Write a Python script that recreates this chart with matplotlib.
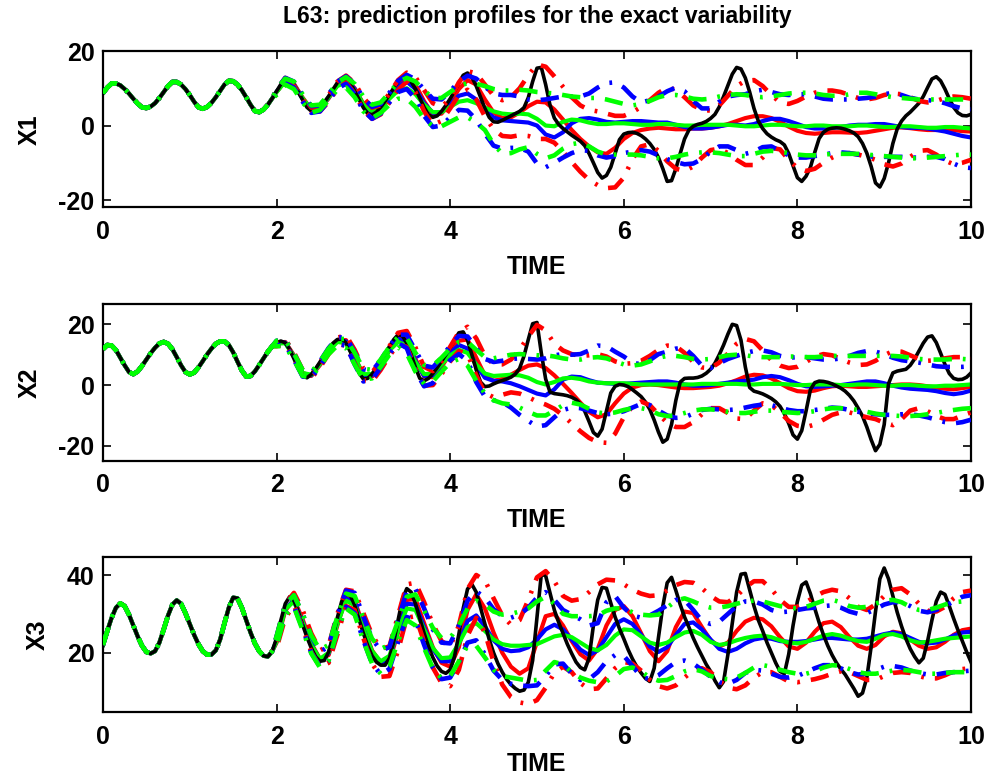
import numpy as np
import matplotlib
matplotlib.use("Agg")
import matplotlib.pyplot as plt

plt.rcParams["font.family"] = ["Liberation Sans", "DejaVu Sans"]
plt.rcParams["font.weight"] = "bold"
plt.rcParams["axes.labelweight"] = "bold"
plt.rcParams["axes.titleweight"] = "bold"
plt.rcParams["axes.unicode_minus"] = False

TITLE = "L63: prediction profiles for the exact variability"

# truth trajectory, sampled every 0.05 time unit from 0 to 10
t_truth = np.round(np.arange(201) * 0.05, 2)
x1_truth = [
    8.7, 10.2, 11.3, 11.3, 10.8, 9.8, 8.6, 7.2, 5.9, 4.9,
    4.7, 5.1, 6.0, 7.4, 9.0, 10.6, 11.7, 11.7, 11.0, 9.8,
    8.2, 6.4, 4.9, 4.5, 5.0, 6.1, 7.6, 9.3, 11.0, 12.0,
    11.9, 11.0, 9.5, 7.6, 5.6, 3.9, 3.6, 4.3, 5.6, 7.3,
    9.2, 11.1, 12.3, 12.0, 10.8, 9.0, 6.9, 4.9, 3.9, 3.9,
    4.8, 6.2, 7.9, 9.7, 11.5, 12.6, 12.5, 11.2, 9.3, 7.0,
    4.8, 3.2, 2.9, 3.6, 4.9, 6.5, 8.3, 10.1, 11.8, 12.9,
    12.9, 11.8, 9.8, 7.4, 4.9, 2.9, 2.2, 2.6, 3.8, 5.4,
    7.2, 9.2, 11.4, 13.5, 14.1, 13.0, 10.6, 7.6, 4.6, 2.2,
    1.0, 0.9, 1.4, 2.0, 2.6, 3.2, 3.8, 4.8, 7.5, 11.8,
    15.4, 15.6, 11.0, 5.5, 2.0, 0.3, -0.8, -1.7, -2.6, -3.4,
    -4.2, -5.4, -7.5, -10.0, -12.6, -14.1, -13.4, -11.2, -7.5, -3.8,
    -2.3, -1.9, -1.8, -2.1, -2.7, -3.6, -4.8, -6.4, -8.6, -11.6,
    -15.0, -14.8, -11.6, -7.5, -3.6, -1.2, -0.2, 0.3, 0.6, 1.1,
    1.9, 3.0, 5.0, 7.8, 10.8, 13.8, 15.6, 15.2, 12.8, 9.0,
    4.6, 1.2, -0.8, -2.2, -3.1, -3.8, -4.3, -5.2, -7.5, -10.8,
    -14.0, -15.0, -13.6, -11.2, -7.2, -3.5, -1.8, -1.0, -0.7, -0.6,
    -0.7, -1.0, -1.4, -2.0, -3.0, -4.8, -7.4, -11.0, -15.4, -16.5,
    -14.2, -10.0, -4.8, -0.9, 1.2, 2.6, 3.6, 4.8, 6.0, 7.8,
    10.2, 12.5, 13.1, 12.0, 9.8, 7.2, 4.9, 3.4, 2.7, 2.6,
    3.0,
]
x2_truth = [
    11.8, 13.2, 13.0, 11.5, 9.0, 6.5, 4.3, 3.6, 4.5, 6.3,
    8.4, 10.5, 12.3, 13.7, 14.2, 13.6, 11.8, 9.2, 6.5, 4.3,
    3.5, 4.1, 5.8, 7.9, 10.1, 12.0, 13.6, 14.4, 14.4, 13.2,
    10.8, 7.7, 4.8, 2.8, 3.0, 4.5, 6.6, 8.8, 11.0, 12.8,
    14.0, 14.5, 13.9, 11.8, 8.7, 5.5, 3.0, 2.4, 3.5, 5.4,
    7.6, 9.9, 12.0, 13.8, 15.0, 15.2, 13.9, 11.0, 7.4, 4.0,
    2.0, 2.2, 3.6, 5.6, 7.9, 10.3, 12.7, 15.0, 16.6, 16.2,
    13.8, 10.0, 5.8, 2.2, 1.4, 2.2, 3.8, 5.7, 7.8, 10.0,
    12.3, 14.8, 17.2, 17.5, 14.8, 10.0, 5.0, 1.0, -0.5, -0.3,
    0.4, 1.0, 1.5, 2.0, 2.6, 3.6, 5.5, 9.5, 15.0, 20.2,
    20.6, 10.5, 2.0, -2.3, -2.8, -3.0, -3.2, -3.5, -4.0, -4.8,
    -6.2, -8.6, -12.0, -15.6, -16.8, -14.5, -8.5, -2.6, -0.4, 0.2,
    0.0, -0.5, -1.5, -2.6, -3.8, -5.6, -8.0, -11.5, -15.5, -18.8,
    -17.8, -13.0, -5.0, 1.0, 2.2, 2.3, 2.3, 2.5, 3.0, 3.9,
    5.2, 7.2, 10.0, 13.2, 16.8, 20.0, 19.6, 14.8, 6.0, -0.8,
    -2.0, -2.4, -2.9, -3.6, -4.4, -5.5, -7.0, -9.4, -12.6, -16.4,
    -17.8, -15.0, -8.5, -1.5, 0.8, 1.3, 1.2, 0.9, 0.4, -0.3,
    -1.0, -2.0, -3.4, -5.2, -7.6, -10.2, -13.8, -18.0, -21.6, -19.5,
    -13.0, 0.5, 4.0, 4.6, 4.9, 5.2, 6.5, 8.6, 11.2, 13.8,
    15.8, 16.2, 14.0, 10.5, 6.8, 3.8, 2.2, 1.8, 1.9, 2.6,
    4.0,
]
x3_truth = [
    22.0, 25.6, 29.0, 31.6, 32.7, 32.0, 29.8, 27.0, 24.2, 21.8,
    20.2, 19.8, 20.4, 22.6, 26.0, 29.6, 32.4, 33.5, 32.6, 30.2,
    27.4, 24.6, 22.2, 20.4, 19.5, 19.5, 20.6, 23.4, 27.6, 31.6,
    34.2, 34.0, 31.6, 28.4, 25.2, 22.4, 20.4, 19.2, 19.0, 20.4,
    23.8, 28.4, 32.6, 34.4, 33.4, 30.6, 27.2, 24.0, 21.2, 19.0,
    17.8, 18.0, 20.2, 24.2, 29.0, 33.2, 35.2, 34.8, 32.2, 28.6,
    25.0, 21.8, 19.2, 17.6, 16.8, 16.8, 18.6, 22.8, 28.4, 33.8,
    36.5, 35.6, 32.6, 28.8, 25.0, 21.6, 18.8, 16.6, 15.2, 14.7,
    15.6, 19.0, 24.8, 31.4, 36.4, 37.6, 35.6, 31.6, 27.4, 23.4,
    20.0, 17.2, 15.0, 13.2, 11.8, 10.8, 10.1, 10.4, 12.4, 18.0,
    29.0, 40.2, 39.8, 35.4, 31.0, 27.8, 25.0, 22.2, 19.8, 17.6,
    16.2, 15.6, 18.6, 27.0, 33.6, 36.8, 36.6, 32.8, 29.2, 26.2,
    23.6, 20.8, 18.4, 16.4, 14.8, 13.4, 12.6, 16.0, 24.0, 32.0,
    38.0, 39.4, 36.0, 32.4, 29.2, 26.6, 23.8, 21.4, 19.2, 17.0,
    15.2, 12.8, 11.0, 12.6, 19.6, 27.6, 35.6, 40.2, 40.4, 36.2,
    32.0, 28.4, 25.6, 22.6, 20.0, 17.4, 15.2, 14.6, 19.6, 27.0,
    33.2, 37.4, 38.2, 35.2, 31.4, 27.8, 24.6, 21.8, 19.4, 17.4,
    15.8, 14.4, 12.6, 10.8, 8.8, 9.6, 13.6, 21.6, 30.6, 39.0,
    41.8, 39.0, 34.6, 30.4, 26.8, 23.6, 21.0, 19.0, 17.4, 18.6,
    23.0, 28.4, 33.2, 35.6, 35.0, 32.0, 28.8, 25.8, 23.0, 20.2,
    17.6,
]

# prediction profiles (mean, lower, upper), every 0.1 from t=2 to 10;
# before t=2 all profiles sit on the truth
t_ens = np.round(2.0 + np.arange(81) * 0.1, 2)

x1_red_mean = [
    9.0, 12.0, 11.2, 7.5, 4.3, 4.5, 7.3, 10.9, 12.6, 10.0,
    5.8, 3.3, 4.2, 7.4, 11.0, 13.2, 11.0, 6.5, 3.0, 3.2,
    6.0, 9.8, 12.2, 11.0, 7.0, 3.5, 2.0, 2.2, 3.5, 5.2,
    6.4, 6.2, 4.3, 1.6, -1.2, -3.6, -5.6, -7.2, -7.6, -6.0,
    -3.6, -2.0, -1.2, -0.8, -0.6, -0.8, -1.0, -1.0, -0.8, -0.8,
    -0.6, -0.2, 0.4, 1.2, 2.0, 2.5, 2.5, 2.0, 1.0, -0.3,
    -1.4, -2.0, -2.2, -2.0, -1.8, -1.8, -1.9, -2.0, -1.8, -1.4,
    -1.0, -0.6, -0.5, -0.7, -1.0, -1.2, -1.2, -1.0, -1.2, -1.5,
    -1.6,
]
x1_red_hi = [
    9.6, 12.8, 11.6, 8.0, 4.8, 5.2, 8.2, 11.8, 13.4, 11.4,
    7.5, 4.8, 5.4, 8.6, 12.2, 14.2, 13.0, 9.5, 6.0, 5.0,
    7.2, 11.6, 14.6, 14.0, 11.0, 8.0, 6.8, 7.6, 10.0, 13.5,
    16.4, 15.8, 13.2, 10.4, 7.6, 5.4, 4.2, 3.8, 3.2, 2.6,
    2.6, 3.6, 5.0, 6.8, 8.8, 10.2, 9.6, 7.6, 5.4, 4.2,
    4.0, 5.4, 8.0, 10.6, 12.0, 12.2, 10.6, 8.2, 6.2, 5.8,
    6.6, 7.8, 8.8, 9.4, 9.4, 9.0, 8.2, 7.4, 7.0, 7.4,
    8.2, 8.6, 8.4, 7.6, 6.6, 6.2, 6.6, 7.4, 7.8, 7.6,
    7.2,
]
x1_red_lo = [
    8.4, 11.4, 10.6, 7.0, 3.8, 3.8, 6.4, 9.8, 11.6, 8.6,
    4.2, 1.8, 3.0, 6.2, 9.6, 11.8, 9.0, 3.8, 0.2, 1.2,
    4.6, 8.2, 9.6, 7.0, 2.4, -1.0, -2.8, -3.0, -2.6, -2.8,
    -3.6, -3.6, -4.6, -7.0, -9.8, -12.4, -14.6, -16.0, -16.8, -16.6,
    -14.0, -9.0, -5.6, -5.0, -6.8, -9.6, -11.6, -12.2, -11.0, -8.6,
    -6.6, -6.2, -7.4, -9.2, -10.6, -10.6, -8.6, -6.0, -6.4, -9.2,
    -11.4, -12.2, -11.6, -10.0, -8.6, -7.6, -7.4, -7.8, -8.4, -9.2,
    -10.4, -11.0, -10.2, -8.4, -6.8, -6.6, -7.8, -9.4, -10.4, -10.0,
    -9.2,
]
x1_blue_mean = [
    9.1, 12.1, 11.0, 7.2, 4.2, 4.6, 7.5, 11.0, 12.3, 9.8,
    5.6, 3.4, 4.6, 7.6, 10.6, 11.8, 9.8, 6.0, 3.4, 3.6,
    5.8, 8.0, 8.6, 7.0, 4.2, 2.2, 1.4, 1.2, 1.0, 0.8,
    0.0, -2.4, -3.2, -1.8, 0.6, 1.8, 2.0, 1.6, 1.0, 0.8,
    1.0, 1.2, 1.2, 1.0, 0.8, 0.8, 0.2, -0.4, -0.8, -0.8,
    -0.6, -0.2, 0.2, 0.2, 0.0, 0.4, 1.2, 1.8, 1.8, 1.2,
    0.4, -0.4, -0.8, -0.8, -0.6, -0.4, 0.0, 0.2, 0.2, 0.4,
    0.4, 0.0, -0.4, -0.6, -0.6, -0.8, -1.2, -1.6, -2.2, -2.8,
    -3.2,
]
x1_blue_hi = [
    9.7, 12.8, 11.8, 8.2, 5.2, 5.4, 8.4, 11.8, 13.2, 11.2,
    7.4, 5.0, 5.8, 8.8, 12.0, 13.6, 12.4, 9.6, 7.2, 7.0,
    9.2, 11.8, 13.4, 12.6, 10.4, 8.6, 8.2, 8.2, 7.8, 7.0,
    6.8, 7.0, 7.4, 7.8, 7.8, 7.8, 8.6, 10.2, 11.4, 11.6,
    10.2, 7.8, 6.2, 6.8, 7.8, 9.2, 10.2, 9.2, 6.6, 4.6,
    4.6, 6.4, 7.8, 8.2, 8.4, 9.2, 9.6, 9.0, 8.4, 8.2,
    8.4, 8.4, 7.8, 7.2, 7.0, 7.0, 7.0, 7.2, 7.4, 7.8,
    8.4, 8.8, 8.2, 7.4, 7.0, 6.8, 6.6, 6.0, 5.2, 4.6,
    4.4,
]
x1_blue_lo = [
    8.5, 11.4, 10.2, 6.4, 3.4, 3.8, 6.6, 10.0, 11.2, 8.4,
    4.0, 1.8, 3.2, 6.2, 9.0, 9.8, 7.2, 2.6, -0.4, 0.0,
    2.2, 4.2, 4.0, 1.6, -2.2, -5.4, -6.2, -6.0, -6.0, -7.0,
    -10.2, -11.2, -10.0, -8.6, -7.4, -6.6, -6.8, -8.0, -8.6, -8.2,
    -7.4, -7.0, -6.6, -7.0, -8.0, -9.0, -9.8, -10.4, -10.2, -9.0,
    -7.0, -5.6, -5.6, -6.6, -7.6, -7.0, -5.8, -5.6, -6.8, -8.0,
    -8.6, -8.6, -8.2, -7.8, -7.4, -7.2, -7.4, -7.8, -8.2, -8.4,
    -8.4, -8.4, -8.4, -8.6, -8.6, -8.4, -8.4, -9.0, -10.2, -11.2,
    -11.4,
]
x1_green_mean = [
    9.0, 11.8, 10.8, 7.3, 4.4, 4.9, 7.6, 10.6, 11.6, 9.4,
    5.8, 3.8, 4.8, 7.2, 9.4, 10.0, 8.4, 5.6, 3.6, 3.6,
    5.0, 6.4, 6.8, 6.0, 4.8, 3.8, 3.2, 3.0, 3.2, 3.0,
    1.8, 0.0, -0.2, 1.0, 1.6, 1.4, 0.8, 0.4, 0.4, 0.6,
    0.6, 0.4, 0.2, 0.2, 0.4, 0.4, 0.2, 0.0, 0.0, 0.2,
    0.2, 0.2, 0.2, 0.0, -0.2, -0.2, 0.0, 0.2, 0.2, 0.0,
    -0.2, -0.2, 0.0, 0.0, -0.2, -0.2, -0.2, 0.0, 0.0, -0.2,
    -0.4, -0.4, -0.2, -0.2, -0.4, -0.6, -0.6, -0.4, -0.4, -0.6,
    -0.8,
]
x1_green_hi = [
    9.8, 12.6, 11.8, 8.4, 5.4, 5.6, 8.4, 11.6, 13.0, 11.2,
    7.8, 5.6, 6.2, 8.8, 11.6, 12.8, 11.8, 9.4, 7.4, 7.4,
    9.0, 10.6, 11.4, 11.2, 10.6, 9.8, 9.4, 9.4, 9.6, 9.4,
    9.0, 8.8, 8.6, 8.2, 7.8, 7.6, 7.4, 7.4, 7.0, 6.4,
    5.8, 5.4, 5.8, 6.6, 7.6, 8.2, 8.2, 7.8, 7.2, 7.0,
    7.2, 7.8, 8.2, 8.4, 8.2, 7.8, 7.6, 7.8, 8.2, 8.6,
    8.8, 8.8, 8.6, 8.2, 8.0, 8.0, 8.4, 8.8, 8.8, 8.4,
    8.0, 7.6, 7.4, 7.2, 7.0, 7.0, 7.0, 7.0, 7.0, 7.0,
    7.0,
]
x1_green_lo = [
    8.2, 11.0, 9.8, 6.2, 3.4, 4.2, 6.8, 9.6, 10.2, 7.6,
    3.8, 2.0, 3.4, 5.6, 7.2, 7.2, 5.0, 1.8, -0.2, -0.2,
    1.0, 2.2, 2.2, 0.8, -1.2, -5.0, -7.6, -7.4, -6.4, -5.8,
    -7.6, -8.8, -8.0, -6.2, -5.0, -4.6, -5.6, -7.0, -7.8, -7.8,
    -7.8, -7.8, -8.0, -8.4, -8.8, -8.8, -8.4, -7.8, -7.4, -7.2,
    -7.2, -7.4, -7.8, -8.2, -8.2, -7.6, -7.0, -6.8, -7.0, -7.4,
    -7.8, -8.0, -8.0, -7.8, -7.6, -7.6, -7.6, -7.6, -7.8, -8.0,
    -8.2, -8.4, -8.6, -8.8, -8.8, -8.6, -8.4, -8.2, -8.0, -7.8,
    -7.8,
]

x2_red_mean = [
    13.6, 14.2, 9.8, 4.0, 3.0, 6.6, 11.2, 14.6, 14.8, 9.2,
    3.4, 2.8, 6.6, 11.4, 15.6, 15.4, 8.6, 2.8, 2.6, 6.0,
    10.4, 14.6, 15.0, 9.0, 3.2, 1.4, 2.0, 3.4, 5.0, 6.4,
    6.8, 5.6, 3.2, 0.4, -2.6, -5.8, -8.8, -10.6, -9.6, -6.0,
    -2.8, -0.8, 0.0, 0.2, 0.0, -0.4, -0.8, -1.0, -1.0, -0.8,
    -0.6, -0.2, 0.6, 1.6, 2.8, 3.4, 3.2, 2.2, 0.6, -1.0,
    -2.0, -2.2, -1.8, -1.0, -0.4, -0.2, -0.4, -0.6, -0.6, -0.4,
    -0.2, 0.0, 0.2, 0.2, 0.0, -0.4, -0.8, -1.2, -1.4, -1.0,
    -0.6,
]
x2_red_hi = [
    14.4, 15.0, 10.8, 5.0, 3.8, 7.4, 12.0, 15.6, 16.4, 11.6,
    5.4, 4.2, 7.8, 12.8, 17.2, 17.8, 12.4, 6.0, 4.6, 7.8,
    12.6, 17.4, 19.2, 15.4, 9.6, 6.8, 6.8, 8.4, 11.6, 16.0,
    19.8, 18.0, 13.6, 11.4, 10.2, 9.6, 9.8, 10.2, 9.4, 7.8,
    7.0, 7.2, 8.0, 9.6, 11.6, 13.0, 12.8, 10.6, 7.6, 5.8,
    5.6, 7.4, 10.4, 13.6, 15.2, 14.4, 11.4, 8.2, 6.4, 5.6,
    6.0, 7.6, 9.4, 10.2, 9.8, 8.6, 7.4, 6.6, 6.8, 8.0,
    9.8, 11.2, 11.0, 9.8, 8.6, 8.0, 8.2, 8.8, 9.2, 9.2,
    9.0,
]
x2_red_lo = [
    12.8, 13.4, 8.8, 3.0, 2.2, 5.8, 10.2, 13.4, 13.0, 7.2,
    1.6, 1.2, 5.0, 9.6, 13.4, 12.6, 5.4, -0.2, 0.0, 3.6,
    7.8, 11.2, 10.2, 3.2, -2.6, -4.0, -3.2, -2.4, -2.8, -4.0,
    -5.4, -6.4, -7.8, -10.0, -12.6, -15.2, -17.4, -18.8, -19.0, -16.0,
    -10.6, -7.0, -5.4, -6.6, -9.6, -12.4, -13.8, -13.8, -12.2, -9.6,
    -7.6, -7.6, -9.2, -11.0, -11.2, -8.4, -6.0, -6.6, -9.0, -11.8,
    -13.4, -13.8, -13.0, -11.4, -9.8, -9.0, -9.0, -9.8, -10.6, -11.2,
    -12.4, -13.2, -11.2, -8.4, -7.6, -8.6, -10.2, -11.2, -11.2, -10.0,
    -9.0,
]
x2_blue_mean = [
    13.8, 14.0, 9.4, 3.8, 3.2, 7.0, 11.4, 14.6, 14.4, 8.8,
    3.2, 3.2, 7.0, 11.6, 15.2, 14.4, 8.0, 3.0, 3.2, 6.8,
    10.6, 13.2, 12.0, 6.6, 2.4, 1.4, 1.2, 0.6, -0.4, -1.6,
    -2.8, -3.4, -1.4, 1.8, 2.8, 2.6, 1.6, 0.8, 0.6, 0.4,
    0.4, 0.6, 0.8, 1.0, 1.2, 1.2, 0.8, 0.2, -0.2, -0.2,
    0.0, 0.4, 0.8, 1.2, 1.4, 1.8, 2.6, 3.0, 2.6, 1.6,
    0.4, -0.4, -0.6, -0.4, -0.2, 0.0, 0.4, 0.8, 1.2, 1.2,
    0.6, -0.2, -0.8, -1.2, -1.4, -1.6, -2.0, -2.6, -3.0, -2.6,
    -1.8,
]
x2_blue_hi = [
    14.6, 14.8, 10.4, 4.8, 4.0, 7.8, 12.2, 15.6, 15.8, 10.8,
    5.2, 4.6, 8.2, 12.8, 16.6, 16.6, 11.4, 6.4, 5.8, 9.0,
    13.0, 16.2, 16.0, 12.2, 8.6, 7.6, 8.0, 8.6, 8.8, 8.6,
    8.4, 8.8, 9.8, 10.2, 10.0, 10.2, 11.4, 13.0, 12.8, 11.0,
    9.4, 7.4, 6.8, 8.2, 10.2, 11.0, 12.0, 12.2, 9.6, 6.4,
    5.6, 7.2, 8.6, 9.6, 10.6, 11.2, 11.4, 10.8, 9.6, 9.0,
    9.2, 9.2, 8.8, 8.4, 8.4, 8.8, 9.6, 10.6, 11.2, 11.0,
    10.2, 9.0, 8.2, 7.8, 7.4, 6.8, 6.2, 6.0, 6.0, 6.0,
    6.2,
]
x2_blue_lo = [
    13.2, 13.2, 8.4, 2.8, 2.4, 6.2, 10.6, 13.6, 13.0, 6.8,
    1.2, 1.8, 5.8, 10.4, 13.8, 12.2, 4.6, -0.4, 0.6, 4.6,
    8.2, 10.2, 8.0, 1.0, -3.8, -5.0, -5.6, -7.4, -9.8, -11.8,
    -13.6, -13.2, -10.6, -8.2, -7.4, -7.6, -8.4, -9.2, -9.6, -9.4,
    -8.6, -7.4, -6.2, -6.6, -8.4, -10.0, -10.8, -10.6, -9.4, -8.2,
    -7.8, -8.0, -8.2, -8.0, -7.4, -6.8, -6.4, -6.6, -7.4, -8.2,
    -8.6, -8.6, -8.2, -7.8, -7.4, -7.6, -8.2, -8.8, -9.2, -9.6,
    -9.8, -9.8, -9.6, -9.6, -10.0, -10.6, -11.4, -12.2, -12.6, -12.2,
    -11.4,
]
x2_green_mean = [
    13.6, 13.8, 9.4, 4.0, 3.4, 7.0, 11.2, 14.2, 13.8, 8.8,
    3.6, 3.6, 7.2, 11.4, 14.2, 13.0, 7.6, 3.6, 3.8, 6.8,
    9.8, 11.6, 10.6, 6.8, 3.8, 3.0, 3.2, 3.4, 3.2, 2.4,
    1.0, 0.2, 1.0, 2.2, 2.4, 2.0, 1.2, 0.8, 0.6, 0.6,
    0.6, 0.4, 0.2, 0.2, 0.2, 0.2, 0.2, 0.2, 0.2, 0.4,
    0.4, 0.4, 0.4, 0.4, 0.2, 0.2, 0.4, 0.4, 0.4, 0.2,
    0.0, 0.0, 0.2, 0.2, 0.2, 0.0, 0.0, 0.2, 0.2, 0.0,
    -0.2, -0.2, 0.0, 0.0, -0.2, -0.4, -0.4, -0.2, -0.2, 0.0,
    0.2,
]
x2_green_hi = [
    14.6, 14.8, 10.4, 5.0, 4.2, 7.8, 12.0, 15.2, 15.2, 10.6,
    5.4, 5.0, 8.4, 12.6, 15.8, 15.4, 10.6, 6.6, 6.4, 9.0,
    12.0, 14.2, 14.2, 11.6, 9.2, 8.8, 9.4, 10.0, 10.2, 10.0,
    9.8, 9.8, 9.4, 8.8, 8.4, 8.4, 9.0, 9.2, 8.8, 7.8,
    6.8, 6.4, 6.8, 7.8, 9.0, 9.6, 9.6, 9.2, 8.6, 8.4,
    8.6, 9.2, 9.8, 10.0, 9.8, 9.4, 9.2, 9.2, 9.2, 9.4,
    9.4, 9.2, 9.2, 9.4, 9.6, 9.6, 9.6, 9.6, 9.6, 9.6,
    9.6, 9.6, 9.4, 9.0, 8.6, 8.4, 8.4, 8.4, 8.6, 8.6,
    8.4,
]
x2_green_lo = [
    12.8, 12.8, 8.2, 3.0, 2.6, 6.2, 10.2, 13.0, 12.2, 6.8,
    1.8, 2.2, 6.0, 10.0, 12.4, 10.4, 4.4, 0.4, 1.2, 4.4,
    7.4, 8.6, 6.4, 1.4, -2.8, -5.0, -6.0, -6.4, -7.4, -8.8,
    -10.0, -10.0, -8.4, -6.6, -5.8, -6.4, -7.8, -9.0, -9.4, -9.0,
    -8.2, -7.6, -7.6, -8.2, -9.6, -10.2, -10.0, -9.2, -8.4, -8.0,
    -8.0, -8.2, -8.8, -9.2, -9.2, -8.8, -8.4, -8.4, -8.8, -9.0,
    -9.2, -9.0, -8.6, -8.0, -7.6, -7.6, -7.8, -8.2, -8.8, -9.4,
    -9.8, -10.0, -10.2, -10.2, -10.0, -9.6, -9.2, -8.6, -8.2, -7.8,
    -7.6,
]

x3_red_mean = [
    22.6, 30.8, 33.8, 28.6, 22.4, 18.4, 19.4, 27.0, 34.2, 33.4,
    26.8, 20.6, 17.4, 17.8, 25.2, 33.6, 33.8, 27.6, 21.4, 17.4,
    16.4, 21.4, 31.0, 35.0, 31.4, 25.2, 20.0, 16.4, 14.6, 16.0,
    22.8, 29.4, 30.0, 27.0, 23.0, 19.6, 18.0, 21.0, 27.0, 31.0,
    32.0, 29.4, 25.0, 20.4, 17.8, 20.4, 26.6, 30.6, 30.2, 26.6,
    23.2, 21.6, 22.6, 25.6, 28.0, 29.0, 28.6, 26.8, 24.0, 21.6,
    21.0, 22.6, 25.4, 27.6, 28.0, 26.6, 24.0, 21.8, 21.0, 22.0,
    24.2, 25.4, 25.0, 23.4, 21.8, 21.0, 21.4, 22.8, 24.6, 25.8,
    26.2,
]
x3_red_hi = [
    24.0, 32.6, 35.4, 31.0, 25.0, 20.6, 21.8, 30.0, 36.2, 35.8,
    30.2, 24.6, 21.0, 21.6, 29.6, 37.6, 38.0, 33.0, 27.4, 23.0,
    21.6, 27.0, 36.4, 40.0, 38.6, 34.0, 29.6, 27.2, 28.4, 33.6,
    39.4, 41.0, 38.4, 34.6, 33.4, 33.8, 35.6, 37.6, 38.8, 38.6,
    37.6, 36.2, 35.2, 34.6, 34.8, 36.0, 37.4, 38.2, 38.0, 36.6,
    34.6, 33.2, 33.0, 34.6, 36.8, 38.4, 38.4, 36.4, 33.6, 31.8,
    31.8, 33.0, 34.4, 35.6, 36.2, 35.8, 34.0, 31.8, 31.0, 32.4,
    34.6, 36.2, 36.6, 35.0, 32.6, 30.8, 30.6, 31.8, 34.0, 35.6,
    36.0,
]
x3_red_lo = [
    21.2, 29.0, 32.2, 26.6, 20.2, 16.4, 17.4, 24.6, 32.0, 31.0,
    23.8, 17.2, 13.8, 14.0, 20.6, 29.0, 29.4, 22.8, 16.2, 12.2,
    11.4, 15.6, 24.4, 29.0, 25.2, 17.6, 11.8, 8.6, 7.2, 6.8,
    7.8, 11.0, 14.8, 16.4, 15.0, 12.2, 10.6, 10.8, 13.4, 16.0,
    17.6, 17.2, 15.4, 13.0, 11.4, 10.8, 11.6, 13.6, 15.4, 16.0,
    15.0, 12.8, 11.0, 10.6, 11.6, 13.6, 15.0, 15.0, 13.8, 12.6,
    12.4, 12.8, 13.2, 13.8, 14.6, 15.2, 15.0, 14.0, 13.0, 13.0,
    14.0, 14.8, 15.0, 14.8, 14.0, 13.4, 13.4, 14.2, 15.2, 15.8,
    16.0,
]
x3_blue_mean = [
    23.0, 31.4, 33.4, 28.0, 22.0, 18.2, 19.8, 27.6, 34.0, 32.8,
    26.2, 20.2, 17.4, 18.6, 25.8, 32.6, 32.4, 26.6, 21.0, 17.8,
    17.8, 22.4, 28.2, 29.6, 26.8, 23.2, 21.0, 20.4, 20.6, 21.4,
    23.4, 26.0, 27.2, 26.0, 23.4, 20.8, 19.4, 20.6, 24.0, 27.4,
    28.6, 27.4, 24.6, 21.6, 20.2, 21.4, 24.6, 27.4, 27.8, 26.0,
    23.4, 21.0, 20.2, 21.0, 22.4, 23.4, 23.8, 23.6, 23.0, 22.8,
    22.8, 23.0, 23.4, 23.8, 23.8, 23.6, 23.4, 23.4, 23.6, 24.2,
    24.8, 25.2, 24.8, 23.8, 22.8, 22.4, 22.6, 23.4, 24.4, 25.2,
    25.4,
]
x3_blue_hi = [
    24.2, 32.6, 34.8, 30.0, 24.2, 20.2, 21.6, 29.6, 36.0, 35.4,
    29.4, 23.6, 20.6, 21.4, 28.6, 35.8, 36.4, 31.4, 26.0, 22.6,
    22.4, 27.0, 33.4, 35.8, 34.2, 31.2, 29.4, 29.0, 29.8, 31.6,
    34.2, 35.6, 33.6, 31.0, 29.8, 28.6, 27.0, 27.6, 33.0, 34.6,
    31.6, 29.6, 29.0, 29.6, 30.8, 32.2, 33.6, 33.6, 31.0, 28.2,
    27.4, 28.0, 30.0, 32.0, 33.2, 33.2, 32.4, 31.0, 30.4, 30.6,
    31.0, 31.4, 31.6, 32.0, 32.2, 31.6, 30.6, 30.0, 30.2, 31.2,
    32.4, 33.0, 33.0, 32.0, 30.8, 30.4, 31.0, 32.0, 33.2, 34.4,
    34.8,
]
x3_blue_lo = [
    22.0, 30.0, 32.0, 26.2, 20.0, 16.4, 18.0, 25.6, 31.8, 30.2,
    23.2, 17.2, 14.4, 15.8, 22.8, 29.2, 28.4, 22.0, 16.2, 13.2,
    13.6, 17.6, 22.6, 23.2, 19.6, 15.4, 13.0, 12.0, 11.6, 11.4,
    11.6, 14.0, 17.0, 17.2, 14.6, 13.0, 13.2, 15.0, 17.8, 19.4,
    19.2, 16.6, 13.8, 13.2, 14.2, 16.0, 17.6, 18.0, 17.2, 15.6,
    13.8, 12.4, 12.0, 13.0, 14.8, 15.6, 15.4, 14.6, 13.8, 13.6,
    14.0, 15.0, 16.0, 16.8, 16.8, 16.0, 15.0, 14.4, 14.6, 15.6,
    16.4, 16.6, 16.2, 15.4, 14.8, 14.4, 14.4, 14.8, 15.0, 15.2,
    15.4,
]
x3_green_mean = [
    23.0, 31.2, 33.2, 27.8, 22.0, 18.4, 20.0, 27.4, 33.4, 32.2,
    26.0, 20.4, 17.8, 19.2, 25.6, 31.4, 31.0, 26.0, 21.2, 18.6,
    18.8, 22.4, 26.6, 27.6, 25.6, 23.4, 22.2, 21.8, 21.8, 22.0,
    22.2, 23.2, 24.2, 24.6, 24.0, 22.6, 21.2, 20.6, 22.0, 24.4,
    26.0, 25.8, 24.2, 22.6, 22.0, 22.6, 24.0, 25.2, 25.6, 24.6,
    22.8, 22.0, 22.4, 23.2, 23.8, 24.2, 24.4, 24.0, 23.2, 22.6,
    22.4, 22.8, 23.6, 24.4, 24.8, 24.4, 23.6, 23.0, 22.8, 23.6,
    24.6, 24.8, 24.2, 23.2, 22.6, 22.8, 23.2, 23.6, 23.8, 24.0,
    24.2,
]
x3_green_hi = [
    24.2, 32.4, 34.8, 30.0, 24.4, 20.8, 22.0, 29.2, 35.2, 34.6,
    29.0, 23.6, 21.0, 22.0, 28.2, 34.4, 35.0, 30.8, 26.4, 23.8,
    23.8, 27.0, 31.4, 33.4, 32.4, 30.6, 29.8, 30.0, 30.6, 31.4,
    33.2, 34.4, 32.6, 30.0, 29.4, 29.4, 29.4, 29.6, 30.8, 31.4,
    31.4, 30.4, 29.8, 29.6, 29.8, 31.6, 33.4, 34.0, 33.2, 32.2,
    31.6, 31.6, 32.0, 32.6, 33.2, 33.4, 33.2, 32.6, 32.0, 31.6,
    31.4, 31.8, 32.6, 33.4, 33.6, 33.0, 32.0, 31.6, 31.8, 32.6,
    33.4, 33.6, 33.0, 31.8, 31.0, 31.0, 31.6, 32.4, 33.0, 33.2,
    33.2,
]
x3_green_lo = [
    21.8, 29.8, 31.8, 25.8, 19.8, 16.2, 18.0, 25.6, 31.4, 29.8,
    23.0, 17.2, 14.6, 16.4, 23.0, 28.4, 27.0, 21.2, 16.0, 13.4,
    14.0, 17.8, 21.8, 21.8, 18.8, 15.6, 14.0, 13.6, 13.2, 12.8,
    13.0, 15.4, 17.6, 17.0, 15.0, 13.6, 12.8, 12.4, 12.6, 14.0,
    15.8, 16.2, 15.2, 13.6, 12.8, 13.0, 14.0, 15.2, 15.8, 15.2,
    14.0, 13.4, 13.2, 13.6, 14.8, 16.2, 16.8, 16.4, 15.6, 15.0,
    14.6, 14.6, 15.2, 16.2, 16.8, 16.6, 15.8, 15.0, 14.6, 14.6,
    15.0, 15.4, 15.6, 15.4, 15.0, 14.6, 14.6, 14.8, 15.0, 15.0,
    15.0,
]

PANELS = [
    ("X1", x1_truth,
     {"red": (x1_red_mean, x1_red_lo, x1_red_hi),
      "blue": (x1_blue_mean, x1_blue_lo, x1_blue_hi),
      "green": (x1_green_mean, x1_green_lo, x1_green_hi)},
     (-22, 20), [-20, 0, 20]),
    ("X2", x2_truth,
     {"red": (x2_red_mean, x2_red_lo, x2_red_hi),
      "blue": (x2_blue_mean, x2_blue_lo, x2_blue_hi),
      "green": (x2_green_mean, x2_green_lo, x2_green_hi)},
     (-24.9, 26.7), [-20, 0, 20]),
    ("X3", x3_truth,
     {"red": (x3_red_mean, x3_red_lo, x3_red_hi),
      "blue": (x3_blue_mean, x3_blue_lo, x3_blue_hi),
      "green": (x3_green_mean, x3_green_lo, x3_green_hi)},
     (4.66, 44.7), [20, 40]),
]

COLORS = {"red": "#ff0000", "blue": "#0000ff", "green": "#00ff00"}
DASHDOT = (0, (4.0, 2.4, 0.6, 2.4))

# axes boxes in figure fraction (left, bottom, width, height)
BOXES = [
    (0.1041, 0.7333, 0.8777, 0.2011),
    (0.1041, 0.4078, 0.8777, 0.2015),
    (0.1041, 0.0844, 0.8777, 0.2000),
]


def with_start(series, truth):
    """Prefix an ensemble series with the truth before the spread starts."""
    early = t_truth < t_ens[0]
    t = np.concatenate([t_truth[early], t_ens])
    y = np.concatenate([np.asarray(truth)[early], np.asarray(series)])
    return t, y


fig = plt.figure(figsize=(9.89, 7.78), dpi=100)

for i, (name, truth, ens, ylim, yticks) in enumerate(PANELS):
    ax = fig.add_axes(BOXES[i])
    # ensemble means under the truth, spread bounds on top
    for color in ("red", "blue", "green"):
        t, y = with_start(ens[color][0], truth)
        ax.plot(t, y, color=COLORS[color], linewidth=3.0, zorder=2)
    ax.plot(t_truth, truth, color="black", linewidth=2.6, zorder=3)
    for z, color in enumerate(("red", "blue", "green")):
        for band in ens[color][1:]:
            t, y = with_start(band, truth)
            ax.plot(t, y, color=COLORS[color], linestyle=DASHDOT,
                    linewidth=3.3, zorder=4 + z)

    ax.set_xlim(0, 10)
    ax.set_ylim(*ylim)
    ax.set_xticks(range(0, 11, 2))
    ax.set_yticks(yticks)
    ax.tick_params(direction="in", top=True, right=True, length=6, width=1.2,
                   labelsize=18)
    ax.tick_params(axis="x", pad=9)
    ax.tick_params(axis="y", pad=6)
    for sp in ax.spines.values():
        sp.set_linewidth(1.6)
    ax.set_xlabel("TIME", fontsize=18, labelpad=8 if i < 2 else 2)
    ax.set_ylabel(name, fontsize=18, labelpad=12)
    if i == 0:
        ax.set_title(TITLE, fontsize=16.5, pad=20)

fig.savefig("out.png", dpi=100)
plt.close(fig)
